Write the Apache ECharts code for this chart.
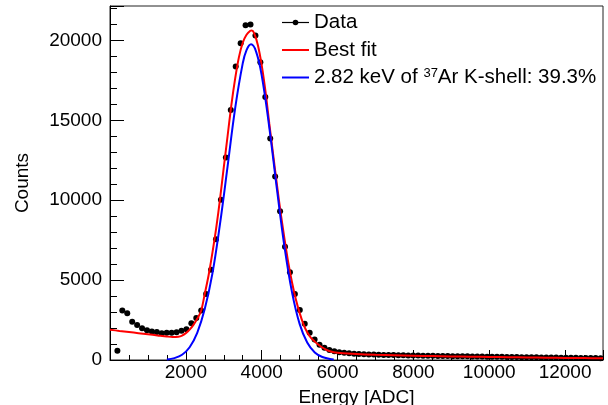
<!DOCTYPE html>
<html>
<head>
<meta charset="utf-8">
<script src="https://cdn.jsdelivr.net/npm/echarts@6/dist/echarts.min.js"></script>
<style>
html,body{margin:0;padding:0;background:#fff;}
#chart{width:608px;height:405px;}
</style>
</head>
<body>
<div id="chart"></div>
<script>
// Histogram: 130 ADC bins, first shown bin centred at 195
const binWidth = 130;
const firstCenter = 195;
const dataCounts = [
  580, 3090, 2920, 2400, 2190, 1980, 1860, 1790, 1750, 1670,
  1710, 1710, 1730, 1830, 1920, 2300, 2630, 3090, 4130, 5650,
  7560, 10020, 12670, 15650, 18360, 19820, 20950, 21000, 20300, 18630,
  16460, 13860, 11480, 9300, 7090, 5490, 4130, 3130, 2270, 1710,
  1290, 960, 770, 630, 540,
  490, 450, 420, 395, 380, 362, 350, 338, 330, 320,
  312, 306, 300, 294, 287, 283, 276, 272, 265, 261,
  255, 250, 246, 240, 237, 231, 227, 222, 219, 213,
  209, 205, 200, 197, 191, 188, 183, 179, 175, 171,
  166, 163, 158, 155, 151, 147, 143, 139, 135, 131,
  127, 123, 119, 116
];

// Best fit curve
const fitX = [0, 250, 500, 750, 1000, 1250, 1500, 1650, 1800, 1900, 2000, 2100, 2200, 2300, 2400, 2500, 2600, 2700, 2800, 2900, 3000, 3100, 3200, 3300, 3400, 3500, 3600, 3700, 3740, 3800, 3900, 4000, 4100, 4200, 4300, 4400, 4500, 4600, 4700, 4800, 4900, 5000, 5100, 5200, 5300, 5400, 5500, 5600, 5700, 5800, 5900, 6000, 6500, 7000, 7500, 8000, 8500, 9000, 9500, 10000, 10500, 11000, 11500, 12000, 12500, 13000];
const fitY = [1900, 1820, 1750, 1680, 1610, 1540, 1470, 1440, 1460, 1530, 1680, 1900, 2200, 2580, 3050, 4150, 5300, 6700, 8250, 10050, 12050, 14000, 15950, 17600, 18950, 19850, 20350, 20600, 20620, 20450, 19700, 18450, 16800, 14800, 12900, 11000, 9200, 7600, 6100, 4850, 3800, 2950, 2250, 1730, 1380, 1150, 950, 780, 640, 550, 490, 460, 375, 322, 293, 268, 245, 225, 207, 190, 173, 158, 144, 131, 119, 107];

// K-shell component
const kX = [1500, 1700, 1900, 2100, 2300, 2500, 2700, 2900, 3100, 3300, 3500, 3600, 3720, 3850, 4000, 4200, 4400, 4600, 4800, 5000, 5200, 5400, 5600, 5800, 5900];
const kY = [35, 120, 330, 800, 1700, 3200, 5400, 8500, 12100, 15750, 18560, 19390, 19750, 19310, 17810, 14560, 10720, 7100, 4230, 2260, 1090, 470, 185, 65, 37];

const xTicks = {min: 0, max: 13000, interval: 2000};
const yTicks = {min: 0, max: 22150, interval: 5000};

const names = ['Data', 'Best fit', '2.82 keV of 37Ar K-shell: 39.3%'];

const histPts = dataCounts.map((v, i) => [firstCenter + i * binWidth, v]);
const fitPts = fitX.map((x, i) => [x, fitY[i]]);
const kPts = kX.map((x, i) => [x, kY[i]]);

const FONT = '"Liberation Sans", Arial, Helvetica, sans-serif';
const plain = v => String(v);
const chart = echarts.init(document.getElementById('chart'), null, {renderer: 'canvas'});
chart.setOption({
  animation: false,
  backgroundColor: '#fff',
  textStyle: {fontFamily: FONT},
  grid: {left: 110, right: 5, top: 6, bottom: 45, containLabel: false, outerBoundsMode: 'none',
    show: true, borderColor: '#222', borderWidth: 1, backgroundColor: 'transparent'},
  legend: {
    orient: 'vertical', left: 281, top: 12, padding: 0,
    itemWidth: 27, itemHeight: 7, itemGap: 6.5,
    textStyle: {fontSize: 20.5, color: '#000', fontFamily: FONT, lineHeight: 20.5,
      rich: {sup: {fontSize: 13, lineHeight: 13, verticalAlign: 'top', fontFamily: FONT, color: '#000'}}},
    formatter: n => n.replace('37Ar', '{sup|37}Ar'),
    data: [
      {name: names[0], lineStyle: {opacity: 1, width: 1.2, color: '#000'}},
      {name: names[1], itemStyle: {opacity: 0}},
      {name: names[2], itemStyle: {opacity: 0}}
    ]
  },
  xAxis: {
    type: 'value', min: xTicks.min, max: xTicks.max, interval: xTicks.interval,
    name: 'Energy [ADC]', nameLocation: 'middle', nameGap: 28,
    nameTextStyle: {fontSize: 19, color: '#000', fontFamily: FONT},
    axisLine: {show: true, lineStyle: {color: '#000', width: 1}},
    axisTick: {show: true, inside: true, length: 10, lineStyle: {color: '#000'}},
    minorTick: {show: true, splitNumber: 4, length: 5, lineStyle: {color: '#000'}},
    axisLabel: {fontSize: 19, color: '#000', margin: 3, showMinLabel: false, showMaxLabel: false, fontFamily: FONT, formatter: plain},
    splitLine: {show: false}
  },
  yAxis: {
    type: 'value', min: yTicks.min, max: yTicks.max, interval: yTicks.interval,
    name: 'Counts', nameLocation: 'middle', nameGap: 78, nameRotate: 90,
    nameTextStyle: {fontSize: 19, color: '#000', fontFamily: FONT},
    axisLine: {show: true, lineStyle: {color: '#000', width: 1}},
    axisTick: {show: true, inside: true, length: 14, lineStyle: {color: '#000'}},
    minorTick: {show: true, splitNumber: 5, length: 7, lineStyle: {color: '#000'}},
    axisLabel: {fontSize: 19, color: '#000', margin: 8, showMaxLabel: false, fontFamily: FONT, formatter: plain},
    splitLine: {show: false}
  },
  series: [
    {
      name: names[0], type: 'line', data: histPts, symbol: 'circle', symbolSize: 6,
      showSymbol: true, itemStyle: {color: '#000'}, lineStyle: {opacity: 0, width: 0, color: '#000'}, z: 2
    },
    {
      name: names[1], type: 'line', data: fitPts, symbol: 'none', smooth: 0.3,
      lineStyle: {color: '#ff0000', width: 2}, itemStyle: {color: '#ff0000'}, z: 3
    },
    {
      name: names[2], type: 'line', data: kPts, symbol: 'none', smooth: 0.4,
      lineStyle: {color: '#0000ff', width: 2}, itemStyle: {color: '#0000ff'}, z: 4
    }
  ]
});
</script>
</body>
</html>
